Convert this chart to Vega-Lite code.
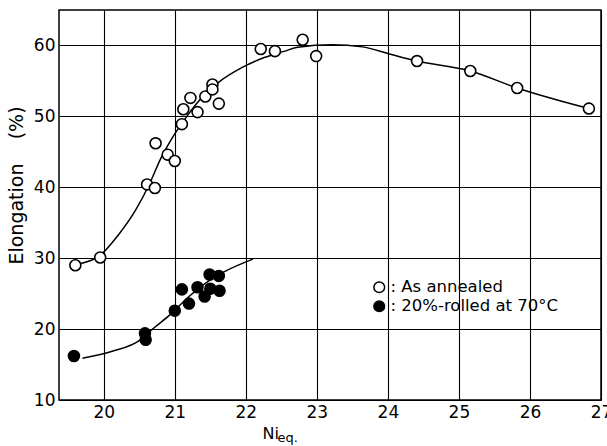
{
  "$schema": "https://vega.github.io/schema/vega-lite/v6.json",
  "width": 542,
  "height": 390,
  "autosize": {"type": "none"},
  "padding": {"left": 59, "top": 10, "right": 6, "bottom": 46},
  "background": "white",
  "config": {
    "font": "DejaVu Sans",
    "view": {"stroke": "black", "strokeWidth": 1.5},
    "axis": {"labelColor": "black", "titleColor": "black", "labelFont": "DejaVu Sans", "titleFont": "DejaVu Sans", "titleFontWeight": "normal"}
  },
  "datasets": {
    "points": [
      {"series": "As annealed", "ni": 19.60, "elong": 29.0},
      {"series": "As annealed", "ni": 19.95, "elong": 30.1},
      {"series": "As annealed", "ni": 20.61, "elong": 40.4},
      {"series": "As annealed", "ni": 20.72, "elong": 39.9},
      {"series": "As annealed", "ni": 20.73, "elong": 46.2},
      {"series": "As annealed", "ni": 20.90, "elong": 44.6},
      {"series": "As annealed", "ni": 21.00, "elong": 43.7},
      {"series": "As annealed", "ni": 21.10, "elong": 48.9},
      {"series": "As annealed", "ni": 21.12, "elong": 51.0},
      {"series": "As annealed", "ni": 21.22, "elong": 52.6},
      {"series": "As annealed", "ni": 21.32, "elong": 50.6},
      {"series": "As annealed", "ni": 21.43, "elong": 52.8},
      {"series": "As annealed", "ni": 21.53, "elong": 54.5},
      {"series": "As annealed", "ni": 21.53, "elong": 53.8},
      {"series": "As annealed", "ni": 21.62, "elong": 51.8},
      {"series": "As annealed", "ni": 22.21, "elong": 59.5},
      {"series": "As annealed", "ni": 22.41, "elong": 59.2},
      {"series": "As annealed", "ni": 22.80, "elong": 60.8},
      {"series": "As annealed", "ni": 22.99, "elong": 58.5},
      {"series": "As annealed", "ni": 24.41, "elong": 57.8},
      {"series": "As annealed", "ni": 25.16, "elong": 56.4},
      {"series": "As annealed", "ni": 25.82, "elong": 54.0},
      {"series": "As annealed", "ni": 26.83, "elong": 51.1},
      {"series": "20%-rolled at 70°C", "ni": 19.58, "elong": 16.2},
      {"series": "20%-rolled at 70°C", "ni": 20.58, "elong": 19.4},
      {"series": "20%-rolled at 70°C", "ni": 20.59, "elong": 18.5},
      {"series": "20%-rolled at 70°C", "ni": 21.00, "elong": 22.6},
      {"series": "20%-rolled at 70°C", "ni": 21.10, "elong": 25.6},
      {"series": "20%-rolled at 70°C", "ni": 21.20, "elong": 23.6},
      {"series": "20%-rolled at 70°C", "ni": 21.32, "elong": 25.9},
      {"series": "20%-rolled at 70°C", "ni": 21.42, "elong": 24.6},
      {"series": "20%-rolled at 70°C", "ni": 21.49, "elong": 27.7},
      {"series": "20%-rolled at 70°C", "ni": 21.50, "elong": 25.7},
      {"series": "20%-rolled at 70°C", "ni": 21.62, "elong": 27.5},
      {"series": "20%-rolled at 70°C", "ni": 21.63, "elong": 25.4}
    ],
    "curves": [
      {"series": "As annealed", "ni": 19.68, "elong": 29.25},
      {"series": "As annealed", "ni": 19.95, "elong": 30.4},
      {"series": "As annealed", "ni": 20.20, "elong": 33.2},
      {"series": "As annealed", "ni": 20.45, "elong": 36.8},
      {"series": "As annealed", "ni": 20.65, "elong": 40.6},
      {"series": "As annealed", "ni": 20.80, "elong": 44.0},
      {"series": "As annealed", "ni": 20.96, "elong": 46.9},
      {"series": "As annealed", "ni": 21.12, "elong": 49.3},
      {"series": "As annealed", "ni": 21.35, "elong": 52.3},
      {"series": "As annealed", "ni": 21.63, "elong": 54.9},
      {"series": "As annealed", "ni": 21.95, "elong": 56.9},
      {"series": "As annealed", "ni": 22.26, "elong": 58.3},
      {"series": "As annealed", "ni": 22.55, "elong": 59.2},
      {"series": "As annealed", "ni": 22.73, "elong": 59.76},
      {"series": "As annealed", "ni": 23.22, "elong": 60.1},
      {"series": "As annealed", "ni": 23.64, "elong": 59.8},
      {"series": "As annealed", "ni": 24.02, "elong": 58.8},
      {"series": "As annealed", "ni": 24.41, "elong": 57.8},
      {"series": "As annealed", "ni": 25.16, "elong": 56.4},
      {"series": "As annealed", "ni": 25.82, "elong": 54.0},
      {"series": "As annealed", "ni": 26.83, "elong": 51.1},
      {"series": "20%-rolled at 70°C", "ni": 19.70, "elong": 15.9},
      {"series": "20%-rolled at 70°C", "ni": 20.13, "elong": 16.9},
      {"series": "20%-rolled at 70°C", "ni": 20.51, "elong": 18.45},
      {"series": "20%-rolled at 70°C", "ni": 20.67, "elong": 19.86},
      {"series": "20%-rolled at 70°C", "ni": 20.93, "elong": 22.0},
      {"series": "20%-rolled at 70°C", "ni": 21.20, "elong": 24.6},
      {"series": "20%-rolled at 70°C", "ni": 21.45, "elong": 26.6},
      {"series": "20%-rolled at 70°C", "ni": 21.70, "elong": 28.1},
      {"series": "20%-rolled at 70°C", "ni": 22.10, "elong": 29.86}
    ]
  },
  "resolve": {"axis": {"x": "independent"}},
  "layer": [
    {
      "data": {"name": "curves"},
      "mark": {"type": "line", "interpolate": "monotone", "stroke": "black", "strokeWidth": 1.5},
      "encoding": {
        "x": {
          "field": "ni", "type": "quantitative",
          "scale": {"domain": [19.37, 27], "nice": false, "zero": false},
          "axis": {
            "orient": "bottom",
            "values": [20, 21, 22, 23, 24, 25, 26, 27],
            "grid": true, "gridColor": "black", "gridWidth": 1.1, "gridOpacity": 1,
            "ticks": false, "domain": false,
            "labelFontSize": 17, "labelPadding": 4, "labelFlush": false,
            "title": "Ni", "titleFontSize": 16, "titleAlign": "left", "titleBaseline": "alphabetic",
            "titleX": 203, "titleY": 38, "titleAnchor": null
          }
        },
        "y": {
          "field": "elong", "type": "quantitative",
          "scale": {"domain": [10, 65], "nice": false, "zero": false},
          "axis": {
            "values": [10, 20, 30, 40, 50, 60],
            "grid": true, "gridColor": "black", "gridWidth": 1.1, "gridOpacity": 1,
            "ticks": false, "domain": false,
            "labelFontSize": 17, "labelPadding": 4, "labelFlush": false,
            "title": "Elongation\u00a0\u00a0\u00a0\u00a0(%)", "titleFontSize": 19,
            "titleAngle": -90, "titleAlign": "center", "titleBaseline": "middle",
            "titleX": -43, "titleY": 175
          }
        },
        "detail": {"field": "series"}
      }
    },
    {
      "data": {"name": "points"},
      "mark": {"type": "point", "shape": "circle", "filled": true, "size": 120, "stroke": "black", "strokeWidth": 1.6, "opacity": 1},
      "encoding": {
        "x": {
          "field": "ni", "type": "quantitative",
          "axis": {
            "orient": "top", "labels": false, "ticks": false, "domain": false, "grid": false,
            "title": "eq.", "titleFontSize": 13, "titleAlign": "left", "titleBaseline": "alphabetic",
            "titleX": 218, "titleY": 431
          }
        },
        "y": {"field": "elong", "type": "quantitative"},
        "fill": {
          "field": "series", "type": "nominal",
          "scale": {"domain": ["As annealed", "20%-rolled at 70°C"], "range": ["white", "black"]},
          "legend": {
            "orient": "none", "legendX": 312, "legendY": 269,
            "title": null, "padding": 0, "rowPadding": 1,
            "symbolType": "circle", "symbolSize": 115, "symbolStrokeColor": "black", "symbolStrokeWidth": 1.5, "symbolOpacity": 1,
            "labelFontSize": 16.5, "labelFont": "DejaVu Sans", "labelColor": "black", "labelOffset": 3,
            "labelExpr": "':\u00a0' + datum.label", "labelLimit": 400
          }
        }
      }
    }
  ]
}
